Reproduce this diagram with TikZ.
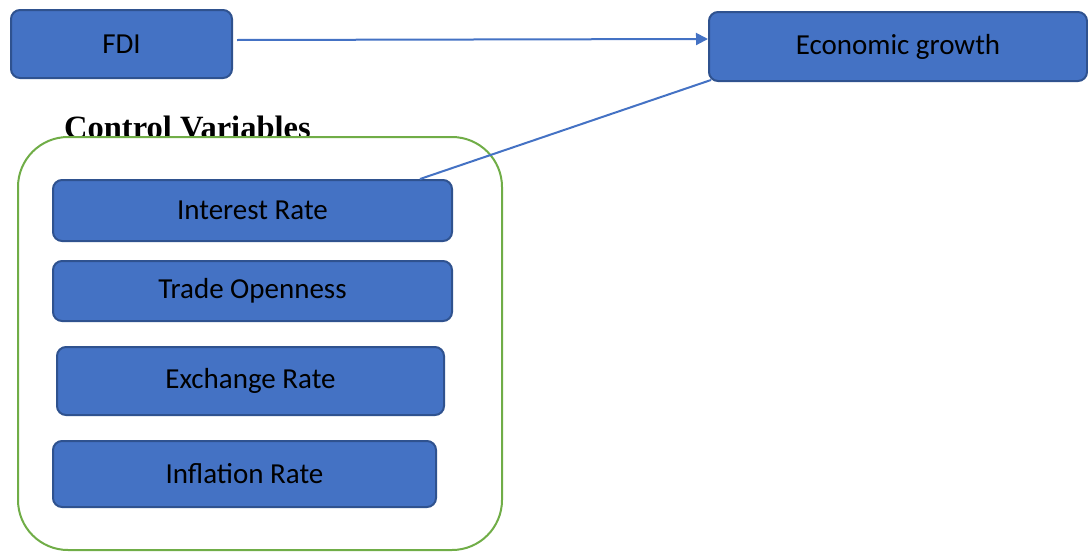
\documentclass[tikz,border=0pt]{standalone}
\usepackage{fontspec}
\setmainfont{Carlito}
\newfontfamily\titlefont{Liberation Serif}
\usetikzlibrary{calc,arrows.meta}
\definecolor{boxblue}{HTML}{4472C4}
\definecolor{boxedge}{HTML}{2F528F}
\definecolor{groupgreen}{HTML}{70AD47}

\begin{document}
\begin{tikzpicture}[x=1pt,y=-1pt,
        var/.style = {draw=boxedge, fill=boxblue, line width=2pt, rounded corners=9pt,
                      font=\fontsize{29}{34}\selectfont, text=black, inner sep=0pt},
        link/.style = {draw=boxblue, line width=2pt}]
        \useasboundingbox (0,0) rectangle (1088,552);
        \node[anchor=base west, inner sep=0pt, font=\titlefont\bfseries\fontsize{32.5}{38}\selectfont] (title) at (64,138) {Control Variables};
        \draw[groupgreen, fill=white, line width=2pt, rounded corners=50pt] (18,137) rectangle (502,550);
        \node[var, minimum width=221pt, minimum height=68pt] (fdi) at (121.5,44) {FDI};
        \node[var, minimum width=378pt, minimum height=69pt] (growth) at (898,46.5) {Economic growth};
        \node[var, minimum width=399pt, minimum height=61pt] (interest) at (252.5,210.5) {Interest Rate};
        \node[var, minimum width=399pt, minimum height=60pt] (trade) at (252.5,291) {Trade Openness};
        \node[var, minimum width=387pt, minimum height=68pt] (exchange) at (250.5,381) {Exchange Rate};
        \node[var, minimum width=383pt, minimum height=66pt] (inflation) at (244.5,474) {Inflation Rate};
        \draw[link, -{Triangle[length=12pt,width=12pt]}] ([xshift=4pt,yshift=4pt]fdi.east) -- ([yshift=7.5pt]growth.west);
        \draw[link] ([xshift=167.5pt]interest.north) -- ([xshift=3pt,yshift=2pt]growth.south west);
\end{tikzpicture}
\end{document}
